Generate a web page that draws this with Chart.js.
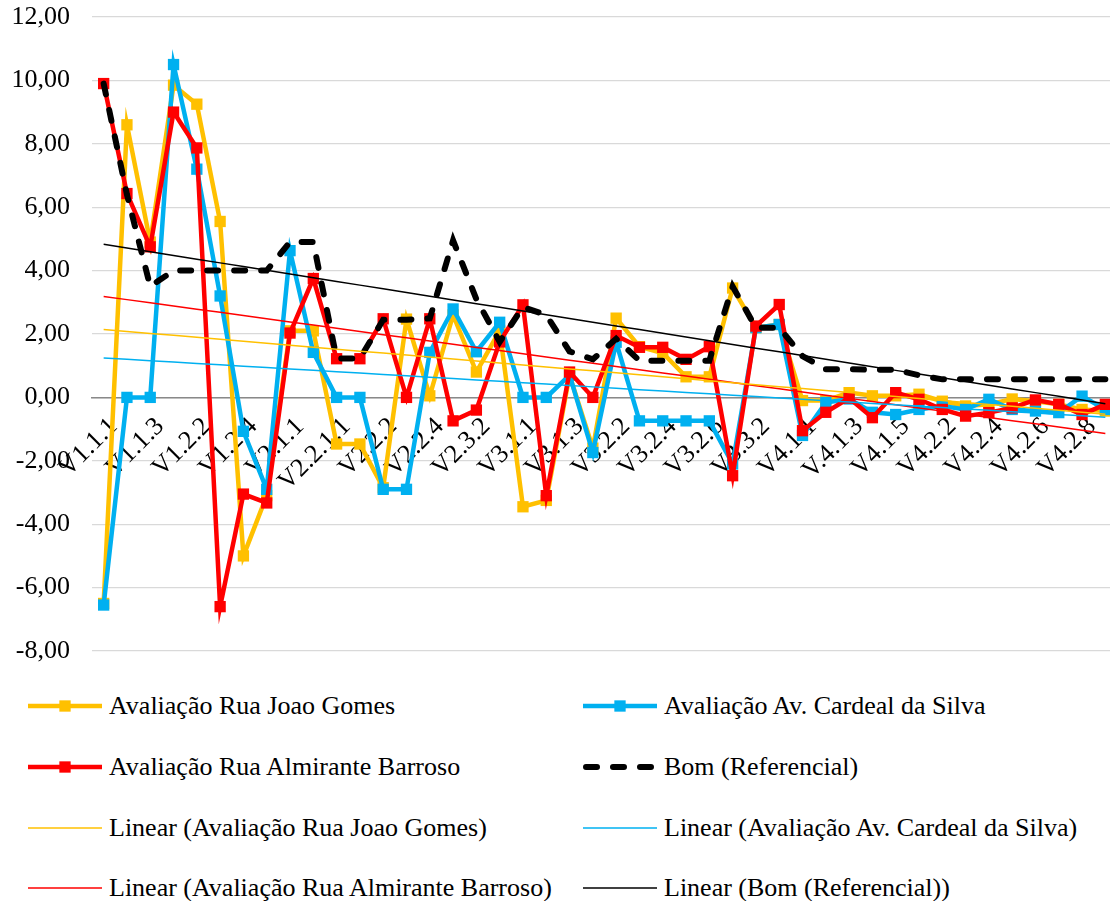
<!DOCTYPE html>
<html lang="pt">
<head>
<meta charset="utf-8">
<title>Avaliação das vias</title>
<script src="https://cdn.jsdelivr.net/npm/chart.js@4.4.1/dist/chart.umd.min.js"></script>
<style>
  html, body { margin: 0; padding: 0; background: #fff; overflow: hidden; }
  body { width: 1110px; height: 901px; position: relative; font-family: "Liberation Serif", "Times New Roman", serif; }
  #chartBox { position: absolute; left: 0; top: 0; }
  .item { position: absolute; height: 30px; display: flex; align-items: center; font-size: 26px; white-space: nowrap; color: #000; }
  .item canvas { margin-right: 7px; }
</style>
</head>
<body>
<div id="chartBox"><canvas id="avaliacaoChart" width="1125" height="680"></canvas></div>
<div id="legend"></div>
<script>
// categories (only every other one gets a label on the axis)
const categories = [
  'V1.1.1', 'V1.1.2', 'V1.1.3', 'V1.2.1', 'V1.2.2', 'V1.2.3', 'V1.2.4', 'V1.2.5',
  'V2.1.1', 'V2.1.2', 'V2.2.1.1', 'V2.2.1.2', 'V2.2.2', 'V2.2.3', 'V2.2.4', 'V2.3.1',
  'V2.3.2', 'V2.3.3', 'V3.1.1', 'V3.1.2', 'V3.1.3', 'V3.2.1', 'V3.2.2', 'V3.2.3',
  'V3.2.4', 'V3.2.5', 'V3.2.6', 'V3.3.1', 'V3.3.2', 'V3.3.3', 'V4.1.1', 'V4.1.2',
  'V.4.1.3', 'V4.1.4', 'V4.1.5', 'V4.2.1', 'V4.2.2', 'V4.2.3', 'V4.2.4', 'V4.2.5',
  'V4.2.6', 'V4.2.7', 'V4.2.8', 'V4.2.9'
];

const joaoGomes = [
  -6.5, 8.6, 4.9, 9.85, 9.25, 5.55, -5.0, -3.1, 2.1, 2.1,
  -1.47, -1.47, -2.85, 2.47, 0.05, 2.6, 0.8, 2.1, -3.45, -3.25,
  0.7, -1.6, 2.5, 1.6, 1.4, 0.65, 0.65, 3.45, 2.2, 2.3,
  -0.1, -0.1, 0.15, 0.05, 0.05, 0.1, -0.12, -0.27, -0.22, -0.05,
  -0.12, -0.22, -0.38, -0.43
];

const cardealSilva = [
  -6.55, 0, 0, 10.5, 7.2, 3.2, -1.07, -2.9, 4.63, 1.42,
  0, 0, -2.9, -2.9, 1.42, 2.79, 1.44, 2.37, 0, 0,
  0.7, -1.74, 1.74, -0.74, -0.74, -0.74, -0.74, -2.1, 2.2, 2.3,
  -1.2, -0.16, -0.05, -0.47, -0.54, -0.38, -0.27, -0.38, -0.06, -0.38,
  -0.43, -0.48, 0.04, -0.38
];

const almiranteBarroso = [
  9.9, 6.43, 4.75, 9.0, 7.87, -6.6, -3.05, -3.33, 2.03, 3.75,
  1.22, 1.22, 2.48, 0.0, 2.48, -0.74, -0.4, 1.75, 2.92, -3.1,
  0.8, 0.0, 1.95, 1.58, 1.58, 1.2, 1.6, -2.47, 2.25, 2.93,
  -1.05, -0.47, -0.02, -0.64, 0.15, -0.06, -0.38, -0.59, -0.48, -0.33,
  -0.08, -0.22, -0.54, -0.22
];

const bomReferencial = [
  9.9, 6.4, 3.5, 4.0, 4.0, 4.0, 4.0, 4.0, 4.9, 4.9,
  1.23, 1.23, 2.45, 2.45, 2.49, 4.95, 3.1, 1.75, 2.85, 2.6,
  1.45, 1.2, 1.85, 1.16, 1.16, 1.16, 1.16, 3.5, 2.2, 2.2,
  1.3, 0.89, 0.89, 0.87, 0.87, 0.7, 0.57, 0.57, 0.57, 0.57,
  0.57, 0.57, 0.57, 0.57
];

const yTicks = [-8, -6, -4, -2, 0, 2, 4, 6, 8, 10, 12];

const YELLOW = '#FFC000';
const BLUE = '#00B0F0';
const RED = '#FF0000';
const BLACK = '#000000';
const SERIF = '"Liberation Serif", "Times New Roman", serif';

// least squares line over the series, like a spreadsheet "Linear" trendline
function linearTrend(values) {
  const n = values.length;
  let sx = 0, sy = 0, sxx = 0, sxy = 0;
  values.forEach((v, i) => {
    const x = i + 1;
    sx += x; sy += v; sxx += x * x; sxy += x * v;
  });
  const slope = (n * sxy - sx * sy) / (n * sxx - sx * sx);
  const intercept = (sy - slope * sx) / n;
  return values.map((_, i) => intercept + slope * (i + 1));
}

function markedSeries(label, data, color, order) {
  return {
    label: label,
    data: data,
    borderColor: color,
    backgroundColor: color,
    borderWidth: 4.5,
    pointStyle: 'rect',
    pointRadius: 8,
    pointHoverRadius: 8,
    pointBorderWidth: 0,
    pointBackgroundColor: color,
    tension: 0,
    order: order
  };
}

function trendSeries(label, data, color) {
  return {
    label: label,
    data: linearTrend(data),
    borderColor: color,
    backgroundColor: color,
    borderWidth: 1.5,
    pointRadius: 0,
    pointHoverRadius: 0,
    tension: 0,
    order: 0
  };
}

function formatNumber(v) {
  return v.toFixed(2).replace('.', ',');
}

document.addEventListener("DOMContentLoaded", () => {
  Chart.defaults.font.family = SERIF;
  Chart.defaults.font.size = 26;
  Chart.defaults.color = '#000';

  const ctx = document.getElementById('avaliacaoChart').getContext('2d');
  const chart = new Chart(ctx, {
    type: 'line',
    data: {
      labels: categories,
      datasets: [
        markedSeries('Avaliação Rua Joao Gomes', joaoGomes, YELLOW, 4),
        markedSeries('Avaliação Av. Cardeal da Silva', cardealSilva, BLUE, 3),
        markedSeries('Avaliação Rua Almirante Barroso', almiranteBarroso, RED, 2),
        {
          label: 'Bom (Referencial)',
          data: bomReferencial,
          borderColor: BLACK,
          backgroundColor: BLACK,
          borderWidth: 6,
          borderDash: [11, 16],
          borderCapStyle: 'round',
          pointRadius: 0,
          pointHoverRadius: 0,
          tension: 0,
          order: 1
        },
        trendSeries('Linear (Avaliação Rua Joao Gomes)', joaoGomes, YELLOW),
        trendSeries('Linear (Avaliação Av. Cardeal da Silva)', cardealSilva, BLUE),
        trendSeries('Linear (Avaliação Rua Almirante Barroso)', almiranteBarroso, RED),
        trendSeries('Linear (Bom (Referencial))', bomReferencial, BLACK)
      ]
    },
    options: {
      responsive: false,
      animation: false,
      layout: { padding: { left: 0, right: 8, top: 17, bottom: 29 } },
      plugins: {
        legend: { display: false },
        tooltip: { enabled: false }
      },
      scales: {
        x: {
          position: { y: 0 },
          offset: true,
          grid: { display: false, drawTicks: false },
          border: { display: true, color: '#898989', width: 1.5 },
          ticks: {
            autoSkip: false,
            minRotation: 45,
            maxRotation: 45,
            padding: 14,
            labelOffset: 10,
            font: { family: SERIF, size: 26 },
            callback: (value, index) => index % 2 === 0 ? categories[index] : ''
          },
          // labels hang off the zero line, so the axis takes no room of its own
          afterFit: (scale) => {
            scale.height = 0;
            scale.paddingLeft = 0;
            scale.paddingRight = 0;
          }
        },
        y: {
          min: -8,
          max: 12,
          afterBuildTicks: (scale) => { scale.ticks = yTicks.map(v => ({ value: v })); },
          grid: { color: '#D9D9D9', lineWidth: 1.3, drawTicks: false },
          border: { display: false },
          ticks: {
            padding: 22,
            font: { family: SERIF, size: 26 },
            callback: (value) => formatNumber(value)
          },
          afterFit: (scale) => {
            scale.width = 92;
            scale.paddingTop = 0;
            scale.paddingBottom = 0;
          }
        }
      }
    }
  });

  // legend in two columns, built from the chart's datasets
  const legend = document.getElementById('legend');
  const rowCenters = [706, 767, 828, 888];
  const colLefts = [28, 583];
  chart.data.datasets.forEach((ds, i) => {
    const item = document.createElement('div');
    item.className = 'item';
    item.style.left = colLefts[i % 2] + 'px';
    item.style.top = (rowCenters[Math.floor(i / 2)] - 15) + 'px';

    const sample = document.createElement('canvas');
    sample.width = 74;
    sample.height = 20;
    const sctx = sample.getContext('2d');
    sctx.strokeStyle = ds.borderColor;
    sctx.lineWidth = ds.borderWidth;
    sctx.lineCap = ds.borderCapStyle || 'butt';
    sctx.setLineDash(ds.borderDash || []);
    sctx.beginPath();
    sctx.moveTo(ds.borderCapStyle === 'round' ? 3 : 0, 10);
    sctx.lineTo(74, 10);
    sctx.stroke();
    if (ds.pointRadius > 0) {
      const side = Math.SQRT2 * ds.pointRadius;
      sctx.fillStyle = ds.pointBackgroundColor;
      sctx.fillRect(37 - side / 2, 10 - side / 2, side, side);
    }

    const text = document.createElement('span');
    text.textContent = ds.label;
    item.appendChild(sample);
    item.appendChild(text);
    legend.appendChild(item);
  });
});
</script>
</body>
</html>
